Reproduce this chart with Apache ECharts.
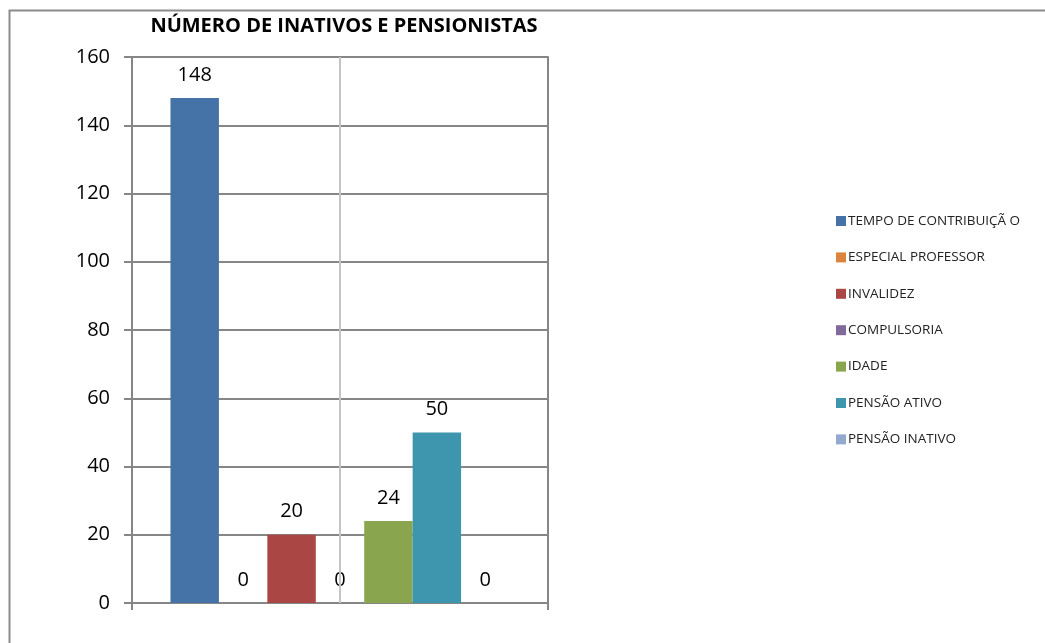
<!DOCTYPE html>
<html>
<head>
<meta charset="utf-8">
<script src="https://cdn.jsdelivr.net/npm/echarts@6/dist/echarts.min.js"></script>
<style>
html,body{margin:0;padding:0;background:#fff;}
#chart{width:1045px;height:643px;}
</style>
</head>
<body>
<div id="chart"></div>
<script>
const titleText = 'NÚMERO DE INATIVOS E PENSIONISTAS';
const categories = [''];
const seriesNames = ['TEMPO DE CONTRIBUIÇÃ O','ESPECIAL PROFESSOR','INVALIDEZ','COMPULSORIA','IDADE','PENSÃO ATIVO','PENSÃO INATIVO'];
const seriesValues = [148, 0, 20, 0, 24, 50, 0];
const seriesColors = ['#4572A7','#DB843D','#AA4643','#80699B','#89A54E','#3D96AE','#93A9CF'];
const yTicks = { min: 0, max: 160, interval: 20 };

const FONT = 'Open Sans';
const chart = echarts.init(document.getElementById('chart'));

const series = seriesNames.map((name, i) => ({
  name: name,
  type: 'bar',
  data: [seriesValues[i]],
  barGap: '0%',
  barCategoryGap: '18.5%',
  itemStyle: { color: seriesColors[i] },
  label: {
    show: true, position: 'top', distance: 13,
    color: '#000', fontSize: 20, fontFamily: FONT
  },
  z: 3
}));
// vertical light grid line at the category centre
series.push({
  name: '__grid', type: 'line', data: [], silent: true,
  markLine: {
    silent: true, symbol: 'none', animation: false,
    label: { show: false },
    lineStyle: { color: '#c4c4c4', type: 'solid', width: 2 },
    data: [{ xAxis: 0 }]
  },
  z: 1
});

chart.setOption({
  animation: false,
  backgroundColor: '#fff',
  graphic: [{
    type: 'rect', left: 7, top: 8,
    shape: { width: 1100, height: 700 },
    style: { fill: 'none', stroke: '#8c8c8c', lineWidth: 2 },
    z: -10
  }],
  title: {
    text: titleText, left: 339, top: 11, textAlign: 'center',
    textStyle: { fontFamily: FONT, fontWeight: 'bold', fontSize: 20, color: '#000' }
  },
  legend: {
    orient: 'vertical', left: 831, top: 209,
    itemWidth: 10, itemHeight: 10, itemGap: 22.4,
    icon: 'rect',
    textStyle: { fontFamily: FONT, fontSize: 13.5, color: '#222', padding: [0,0,0,-3] },
    data: seriesNames
  },
  grid: { left: 132, right: 497, top: 57, bottom: 40, containLabel: false },
  xAxis: {
    type: 'category', data: categories,
    axisLine: { show: true, lineStyle: { color: '#868686', width: 2 } },
    axisTick: { show: true, length: 7, lineStyle: { color: '#868686', width: 2 } },
    axisLabel: { show: false },
    splitLine: { show: false }
  },
  yAxis: [{
    type: 'value', min: yTicks.min, max: yTicks.max, interval: yTicks.interval,
    axisLine: { show: true, lineStyle: { color: '#868686', width: 2 } },
    axisTick: { show: true, length: 8, lineStyle: { color: '#868686', width: 2 } },
    axisLabel: { color: '#000', fontSize: 20, fontFamily: FONT, margin: 22 },
    splitLine: { show: true, lineStyle: { color: '#868686', width: 2 } }
  }, {
    type: 'value', min: yTicks.min, max: yTicks.max, interval: yTicks.interval, position: 'right',
    axisLine: { show: true, lineStyle: { color: '#868686', width: 2 } },
    axisTick: { show: false }, axisLabel: { show: false }, splitLine: { show: false }
  }],
  series: series
});
</script>
</body>
</html>
